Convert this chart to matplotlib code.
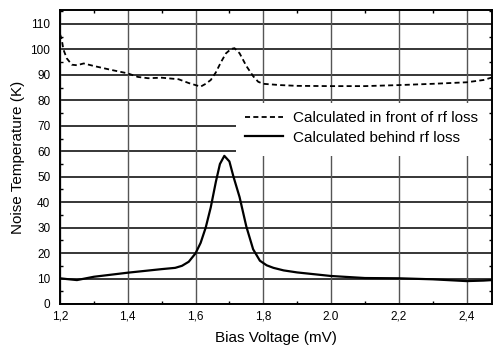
import matplotlib
matplotlib.use("Agg")
import matplotlib.pyplot as plt
from matplotlib.ticker import MultipleLocator
from matplotlib.patches import Rectangle

plt.rcParams['font.family'] = ['Liberation Sans', 'DejaVu Sans']

# Data
front_x = [1.2, 1.205, 1.21, 1.22, 1.235, 1.25, 1.27, 1.3, 1.35, 1.4, 1.43, 1.46, 1.5, 1.55,
           1.58, 1.6, 1.615, 1.63, 1.645, 1.66, 1.675, 1.69, 1.705, 1.715, 1.73, 1.75, 1.77,
           1.785, 1.8, 1.85, 1.9, 2.0, 2.1, 2.2, 2.3, 2.4, 2.45, 2.475]
front_y = [106, 104, 100, 96.5, 94, 93.8, 94.5, 93.5, 92, 90.6, 89.2, 88.7, 88.9, 88.3,
           86.8, 86, 85.4, 86.5, 88, 91, 95, 98.5, 100.2, 100.5, 98.5, 93.5, 89.5,
           87.3, 86.5, 86.0, 85.7, 85.6, 85.6, 86, 86.5, 87.1, 88, 89]

behind_x = [1.2, 1.22, 1.25, 1.3, 1.35, 1.4, 1.45, 1.5, 1.54, 1.56, 1.58, 1.6, 1.615, 1.63,
            1.645, 1.66, 1.672, 1.685, 1.7, 1.712, 1.73, 1.75, 1.77, 1.79, 1.81, 1.83, 1.86,
            1.9, 2.0, 2.1, 2.2, 2.3, 2.4, 2.45, 2.475]
behind_y = [10.1, 9.8, 9.4, 10.7, 11.5, 12.3, 13.0, 13.7, 14.2, 15.0, 16.6, 19.9, 24, 30,
            38, 48, 55, 58.2, 56, 50, 42, 30.4, 21.5, 17, 15.2, 14.2, 13.2,
            12.4, 11.0, 10.2, 10.1, 9.7, 9.0, 9.2, 9.4]

x_ticks = [1.2, 1.4, 1.6, 1.8, 2.0, 2.2, 2.4]
x_tick_labels = ["1,2", "1,4", "1,6", "1,8", "2.0", "2,2", "2,4"]
y_ticks = [0, 10, 20, 30, 40, 50, 60, 70, 80, 90, 100, 110]

label_front = "Calculated in front of rf loss"
label_behind = "Calculated behind rf loss"

fig = plt.figure(figsize=(4.93, 3.48), dpi=100)
ax = fig.add_axes([60/493, 1-304/348, 432/493, 294/348])

ax.plot(front_x, front_y, color='black', lw=1.3, ls=(0, (2.8, 1.8)), label=label_front, zorder=3)
ax.plot(behind_x, behind_y, color='black', lw=1.6, label=label_behind, zorder=3)

ax.set_xlim(1.2, 2.475)
ax.set_ylim(0, 115.5)
ax.set_xticks(x_ticks)
ax.set_xticklabels(x_tick_labels)
ax.set_yticks(y_ticks)
ax.xaxis.set_minor_locator(MultipleLocator(0.1))
ax.yaxis.set_minor_locator(MultipleLocator(5))

for y in y_ticks:
    ax.axhline(y, color='black', lw=1.1, zorder=0)
for x in x_ticks:
    ax.axvline(x, color='#555555', lw=1.0, zorder=0)

# white legend patch covering the grid
ax.add_patch(Rectangle((0.407, 0.505), 0.6, 0.18, transform=ax.transAxes,
                       facecolor='white', edgecolor='none', zorder=1, clip_on=False))

ax.tick_params(axis='x', which='major', direction='in', length=0, labelsize=8.5, pad=5)
ax.tick_params(axis='y', which='major', direction='in', length=0, labelsize=8.5, pad=7)
ax.tick_params(axis='both', which='minor', direction='in', length=2.5, width=1.0,
               top=True, right=True)
for s in ax.spines.values():
    s.set_linewidth(1.4)
    s.set_color('black')

ax.set_xlabel("Bias Voltage (mV)", fontsize=11, labelpad=6)
ax.set_ylabel("Noise Temperature (K)", fontsize=11, labelpad=4)

leg = ax.legend(loc='center left', bbox_to_anchor=(0.428, 0.599), frameon=False, fontsize=11,
                handlelength=2.5, handletextpad=0.65, labelspacing=0.35, borderpad=0,
                borderaxespad=0)
leg.set_zorder(4)

fig.savefig("out.png", dpi=100)
